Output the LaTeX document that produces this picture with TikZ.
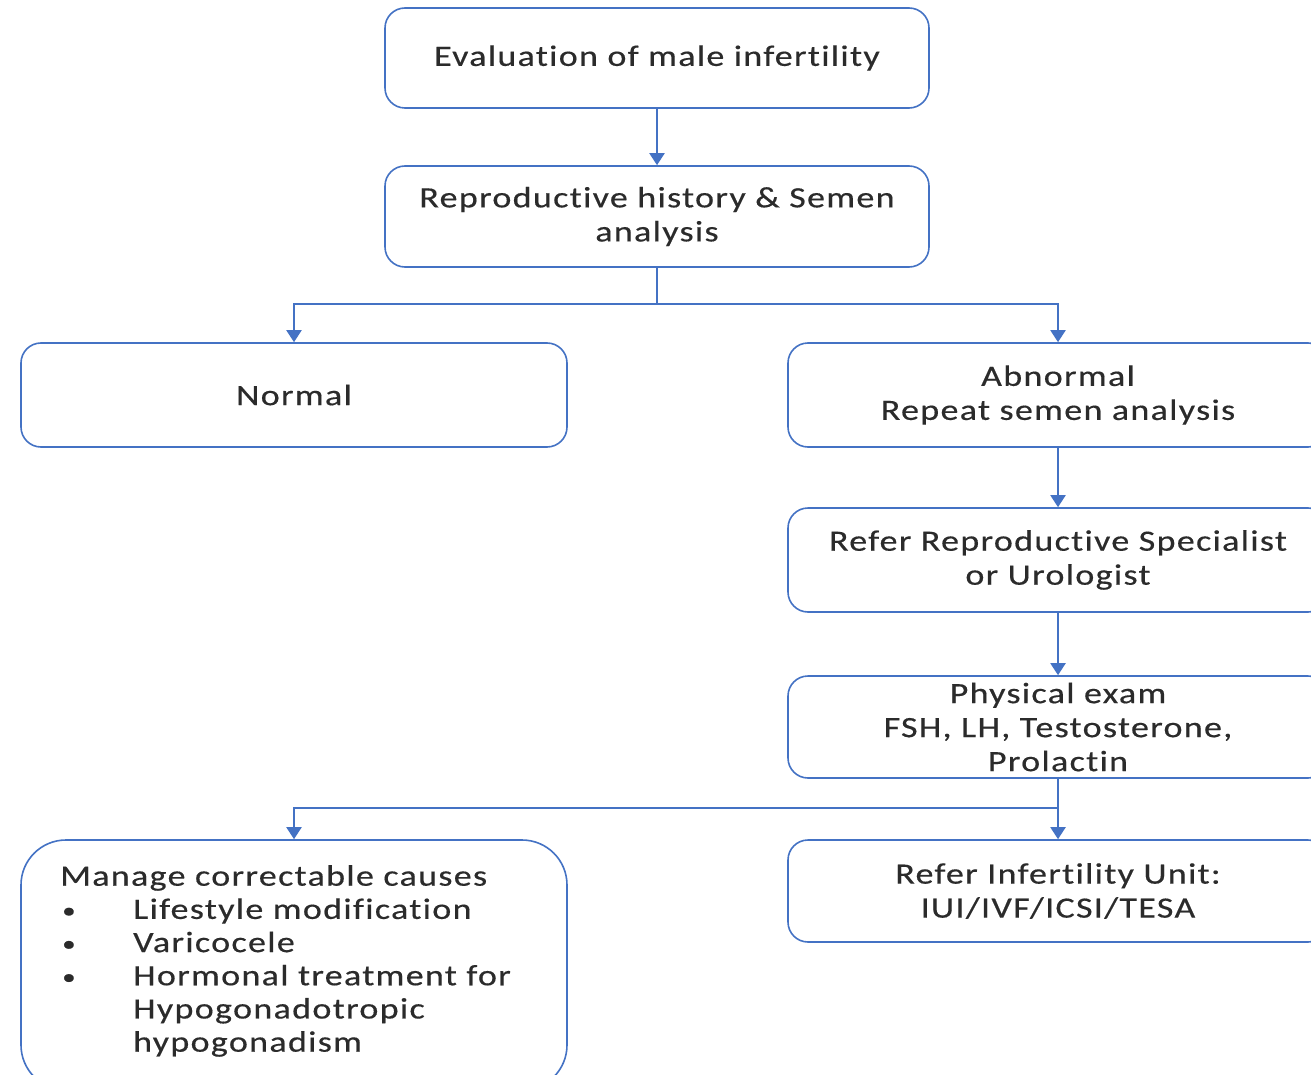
\documentclass[tikz,border=0pt]{standalone}
\usepackage{fontspec}
\setmainfont{Carlito}[FakeStretch=1.22, LetterSpace=4.5, Ligatures=NoCommon, FakeBold=0.4]
\usetikzlibrary{arrows.meta}
\definecolor{lineblue}{HTML}{4472C4}
\definecolor{txt}{HTML}{2B2B2B}
\newcommand{\mybul}{\makebox[73pt][l]{\hspace{2pt}\raisebox{1pt}{\scalebox{0.75}{\textbullet}}}}
\tikzset{
  box/.style={draw=lineblue, line width=1.6pt, rounded corners=20pt, fill=white,
    text=txt, align=center, font=\fontsize{29.5}{34}\selectfont, inner sep=0pt},
  conn/.style={draw=lineblue, line width=2pt},
  arr/.style={conn, -{Triangle[width=15pt,length=12pt]}}
}
\begin{document}
\begin{tikzpicture}[x=1pt,y=-1pt]
\useasboundingbox (0,0) rectangle (1311,1075);
\clip (0,0) rectangle (1311,1075);
\fill[white] (0,0) rectangle (1311,1075);
\node[box, minimum width=544pt, minimum height=100pt] (eval) at (657,58) {Evaluation of male infertility};
\node[box, minimum width=544pt, minimum height=101pt] (hist) at (657,216.5) {Reproductive history \& Semen\\analysis};
\node[box, minimum width=546pt, minimum height=104pt] (normal) at (294,395) {Normal};
\node[box, minimum width=540pt, minimum height=104pt] (abn) at (1058,395) {Abnormal\\Repeat semen analysis};
\node[box, minimum width=540pt, minimum height=104pt] (spec) at (1058,560) {Refer Reproductive Specialist\\or Urologist};
\node[box, minimum width=540pt, minimum height=102pt] (phys) at (1058,727) {Physical exam\\FSH, LH, Testosterone,\\Prolactin};
\node[box, rounded corners=45pt, minimum width=546pt, minimum height=250pt] (manage) at (294,965) {};
\node[box, minimum width=540pt, minimum height=102pt] (unit) at (1058,891) {Refer Infertility Unit:\\IUI/IVF/ICSI/TESA};
\node[anchor=north west, text=txt, inner sep=0pt, align=left, font=\fontsize{29.5}{33.2}\selectfont] (mtext) at (60,865)
 {Manage correctable causes\\
  \mybul Lifestyle modification\\
  \mybul Varicocele\\
  \mybul Hormonal treatment for\\
  \hspace*{73pt}Hypogonadotropic\\
  \hspace*{73pt}hypogonadism};
\coordinate (j1) at (hist.south |- 0,304);
\coordinate (j2) at (phys.south |- 0,808);
\draw[arr] (eval.south) -- (hist.north);
\draw[conn] (hist.south) -- (j1);
\draw[arr] (j1) -| (normal.north);
\draw[arr] (j1) -| (abn.north);
\draw[arr] (abn.south) -- (spec.north);
\draw[arr] (spec.south) -- (phys.north);
\draw[conn, line width=2.6pt] (phys.south) -- (j2);
\draw[arr] (j2) -| (manage.north);
\draw[arr] (j2) -- (unit.north);
\end{tikzpicture}
\end{document}
